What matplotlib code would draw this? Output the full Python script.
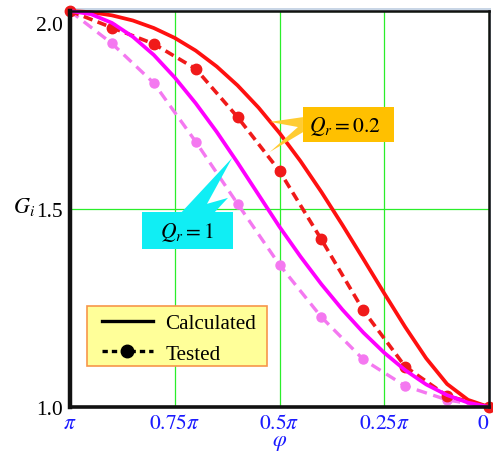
import numpy as np
import matplotlib.pyplot as plt
import matplotlib.transforms as mtransforms
from matplotlib.lines import Line2D
from matplotlib.patches import Rectangle, Polygon

plt.rcParams["mathtext.fontset"] = "stix"
plt.rcParams["font.family"] = ["Liberation Serif", "DejaVu Serif"]

# phase angle in units of pi, running from pi down to 0
phi_calc = [1.00, 0.95, 0.90, 0.85, 0.80, 0.75, 0.70, 0.65, 0.60, 0.55, 0.50,
            0.45, 0.40, 0.35, 0.30, 0.25, 0.20, 0.15, 0.10, 0.05, 0.00]
g_calc_q02 = [2.000, 1.997, 1.989, 1.976, 1.957, 1.932, 1.900, 1.860, 1.812, 1.756, 1.692,
              1.621, 1.543, 1.460, 1.374, 1.287, 1.202, 1.123, 1.058, 1.018, 1.000]
g_calc_q1 = [2.000, 1.992, 1.970, 1.935, 1.889, 1.832, 1.767, 1.695, 1.617, 1.536, 1.455,
             1.380, 1.310, 1.246, 1.188, 1.137, 1.093, 1.057, 1.030, 1.011, 1.000]

phi_test = [1.0, 0.9, 0.8, 0.7, 0.6, 0.5, 0.4, 0.3, 0.2, 0.1, 0.0]
g_test_q02 = [2.000, 1.958, 1.917, 1.854, 1.732, 1.596, 1.423, 1.244, 1.102, 1.028, 1.000]
g_test_q1 = [2.000, 1.918, 1.818, 1.670, 1.513, 1.359, 1.227, 1.120, 1.053, 1.018, 1.000]

x_ticks = [1.0, 0.75, 0.5, 0.25, 0.0]
x_tick_labels = [r"$\pi$", r"$0.75\pi$", r"$0.5\pi$", r"$0.25\pi$", r"$0$"]
y_ticks = [1.0, 1.5, 2.0]
y_tick_labels = ["1.0", "1.5", "2.0"]

fig = plt.figure(figsize=(4.93, 4.56), dpi=100)
ax_rect = [70 / 493, 48 / 456, 419 / 493, 396 / 456]

# faint shadow behind the top/right frame
fig.patches.append(Rectangle((ax_rect[0] + 2 / 493, ax_rect[1] + 3 / 456), ax_rect[2], ax_rect[3],
                             transform=fig.transFigure, facecolor="#c9d6e6",
                             edgecolor="none", zorder=-1))
ax = fig.add_axes(ax_rect)

xc = np.array(phi_calc) * np.pi
xt = np.array(phi_test) * np.pi

ax.plot(xt, g_test_q1, color="#f478f0", lw=2.4, ls=(0, (3.2, 2.0)),
        marker="o", ms=6.5, zorder=3, clip_on=False)
ax.plot(xt, g_test_q02, color="#f01a1a", lw=2.6, ls=(0, (2.6, 1.5)),
        marker="o", ms=7.5, zorder=4, clip_on=False)
ax.plot(xc, g_calc_q02, color="#ff1010", lw=2.7, zorder=5, clip_on=False)
ax.plot(xc, g_calc_q1, color="#ff00ff", lw=2.7, zorder=6, clip_on=False)

ax.set_xlim(np.pi, 0)
ax.set_ylim(1.0, 2.0)
ax.set_xticks(np.array(x_ticks) * np.pi)
ax.set_xticklabels(x_tick_labels, color="#1a1aff", fontsize=15.5)
ax.set_yticks(y_ticks)
ax.set_yticklabels(y_tick_labels, fontsize=15.5)
ax.tick_params(length=0, pad=5)
ax.grid(color="#2aee2a", lw=0.9)
ax.set_axisbelow(True)

# keep the top label inside the frame, and the last x label inside the figure
top_label = ax.get_yticklabels()[2]
top_label.set_transform(top_label.get_transform() +
                        mtransforms.ScaledTranslation(0, -0.12, fig.dpi_scale_trans))
ax.get_xticklabels()[4].set_ha("right")

for side, lw in [("left", 3.2), ("bottom", 2.6), ("top", 1.8), ("right", 1.8)]:
    ax.spines[side].set_linewidth(lw)
    ax.spines[side].set_color("#111111")
    ax.spines[side].set_zorder(7)

ax.set_xlabel(r"$\varphi$", color="#1a1aff", fontsize=16, labelpad=0)
ax.set_ylabel(r"$G_i$", fontsize=16, rotation=0, ha="center", va="center")
ax.yaxis.set_label_coords(-0.11, 0.507)

# callout for Qr = 0.2
ax.add_patch(Polygon([(0.556, 0.732), (0.477, 0.720), (0.544, 0.707), (0.477, 0.644), (0.556, 0.694)],
                     closed=True, transform=ax.transAxes, facecolor="#ffcc33",
                     edgecolor="none", zorder=8))
ax.add_patch(Rectangle((0.556, 0.669), 0.217, 0.089, transform=ax.transAxes,
                       facecolor="#ffc000", edgecolor="none", zorder=8))
ax.text(0.655, 0.712, r"$Q_r = 0.2$", transform=ax.transAxes, fontsize=15.5,
        ha="center", va="center", zorder=9)

# callout for Qr = 1
ax.add_patch(Polygon([(0.262, 0.487), (0.387, 0.629), (0.327, 0.513), (0.377, 0.528), (0.341, 0.487)],
                     closed=True, transform=ax.transAxes, facecolor="#10eef4",
                     edgecolor="none", zorder=8))
ax.add_patch(Rectangle((0.172, 0.399), 0.217, 0.093, transform=ax.transAxes,
                       facecolor="#10eef4", edgecolor="none", zorder=8))
ax.text(0.28, 0.442, r"$Q_r = 1$", transform=ax.transAxes, fontsize=15.5,
        ha="center", va="center", zorder=9)

# legend box drawn separately so its padding can be set freely
ax.add_patch(Rectangle((0.0406, 0.1035), 0.430, 0.152, transform=ax.transAxes,
                       facecolor="#ffff99", edgecolor="#f7964a", lw=1.2, zorder=9))
handles = [Line2D([], [], color="black", lw=2.4),
           Line2D([], [], color="black", lw=2.4, ls=(0, (1.6, 1.2)), marker="o", ms=9)]
leg = ax.legend(handles, ["Calculated", "Tested"], loc="center left",
                bbox_to_anchor=(0.0764, 0.173), fontsize=15.2, frameon=False,
                handlelength=2.4, handletextpad=0.6, labelspacing=0.5,
                borderpad=0, borderaxespad=0, numpoints=1)
leg.set_zorder(10)

fig.savefig("out.png", dpi=100)
